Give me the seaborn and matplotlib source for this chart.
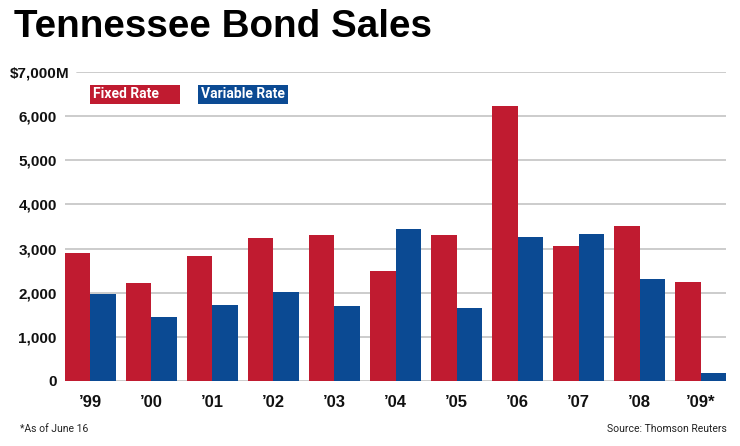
import pandas as pd
import numpy as np
import matplotlib
matplotlib.use("Agg")
import matplotlib.pyplot as plt
from matplotlib.patches import Rectangle
import seaborn as sns

# Datos (millones de dólares)
years = ["’99", "’00", "’01", "’02", "’03", "’04", "’05", "’06", "’07", "’08", "’09*"]
fixed_rate = [2900, 2230, 2830, 3230, 3310, 2500, 3310, 6235, 3055, 3520, 2240]
variable_rate = [1970, 1460, 1720, 2025, 1710, 3440, 1655, 3260, 3330, 2310, 175]
series = ["Fixed Rate", "Variable Rate"]
y_ticks = [0, 1000, 2000, 3000, 4000, 5000, 6000, 7000]
y_labels = ["0", "1,000", "2,000", "3,000", "4,000", "5,000", "6,000", "$7,000"]

df = pd.DataFrame({"year": years, series[0]: fixed_rate, series[1]: variable_rate})
df_long = df.melt(id_vars="year", var_name="type", value_name="amount")

RED = "#c01b30"
BLUE = "#0b4a93"
GRID = "#c8c8c8"
BOLD = ["Liberation Sans", "DejaVu Sans"]
NARROW = ["Liberation Sans Narrow", "Roboto", "Liberation Sans", "DejaVu Sans"]

sns.set_style("white")

fig = plt.figure(figsize=(7.4, 4.46), dpi=100)
ax = fig.add_axes([65 / 740, 1 - 381 / 446, 661 / 740, 309 / 446])

sns.barplot(data=df_long, x="year", y="amount", hue="type", order=years,
            hue_order=series, palette=[RED, BLUE], width=0.83, gap=0,
            linewidth=0, saturation=1, legend=False, ax=ax, zorder=2)

ax.set_xlim(-0.415, 10.415)
ax.set_ylim(0, 7000)
ax.set_yticks(y_ticks)
ax.set_yticklabels(y_labels, fontfamily=BOLD, fontweight="bold", fontsize=11, color="#111111")
ax.set_xticks(range(len(years)))
ax.set_xticklabels(years, fontfamily=BOLD, fontweight="bold", fontsize=12, color="#111111")
ax.tick_params(axis="both", length=0)
ax.tick_params(axis="y", pad=6)
ax.tick_params(axis="x", pad=10)
ax.set_xlabel("")
ax.set_ylabel("")

# líneas de la cuadrícula
ax.grid(False)
for t in y_ticks:
    xmin = 12 / 661 if t == 7000 else 0
    ax.axhline(t, xmin=xmin, xmax=1, color=GRID, linewidth=1.3, zorder=1)
for s in ax.spines.values():
    s.set_visible(False)

# la "M" de $7,000M sobresale de la columna de etiquetas
ax.annotate("M", xy=(0, 7000), xycoords=ax.get_yaxis_transform(),
            xytext=(-6.6, 0), textcoords="offset points", ha="left", va="center_baseline",
            fontfamily=BOLD, fontweight="bold", fontsize=11, color="#111111")

# Título
fig.text(14 / 740, 1 - 37 / 446, "Tennessee Bond Sales", fontfamily=BOLD,
         fontweight="bold", fontsize=27.8, color="#000000", va="baseline", ha="left")

# Leyenda
for x0, w, col, lab in [(90, 90, RED, series[0]), (198, 90, BLUE, series[1])]:
    fig.patches.append(Rectangle((x0 / 740, 1 - 104 / 446), w / 740, 19 / 446,
                                 transform=fig.transFigure, facecolor=col,
                                 edgecolor="none", zorder=3))
    fig.text((x0 + 3) / 740, 1 - 94.5 / 446, lab, color="white", fontfamily=NARROW,
             fontweight="bold", fontsize=10, va="center", ha="left", zorder=4)

# Notas
fig.text(20 / 740, 1 - 429 / 446, "*As of June 16", fontfamily=NARROW,
         fontsize=7.5, color="#222222", va="center", ha="left")
fig.text(727 / 740, 1 - 429 / 446, "Source: Thomson Reuters", fontfamily=NARROW,
         fontsize=7.5, color="#222222", va="center", ha="right")

fig.savefig("out.png", dpi=100, facecolor="white")
